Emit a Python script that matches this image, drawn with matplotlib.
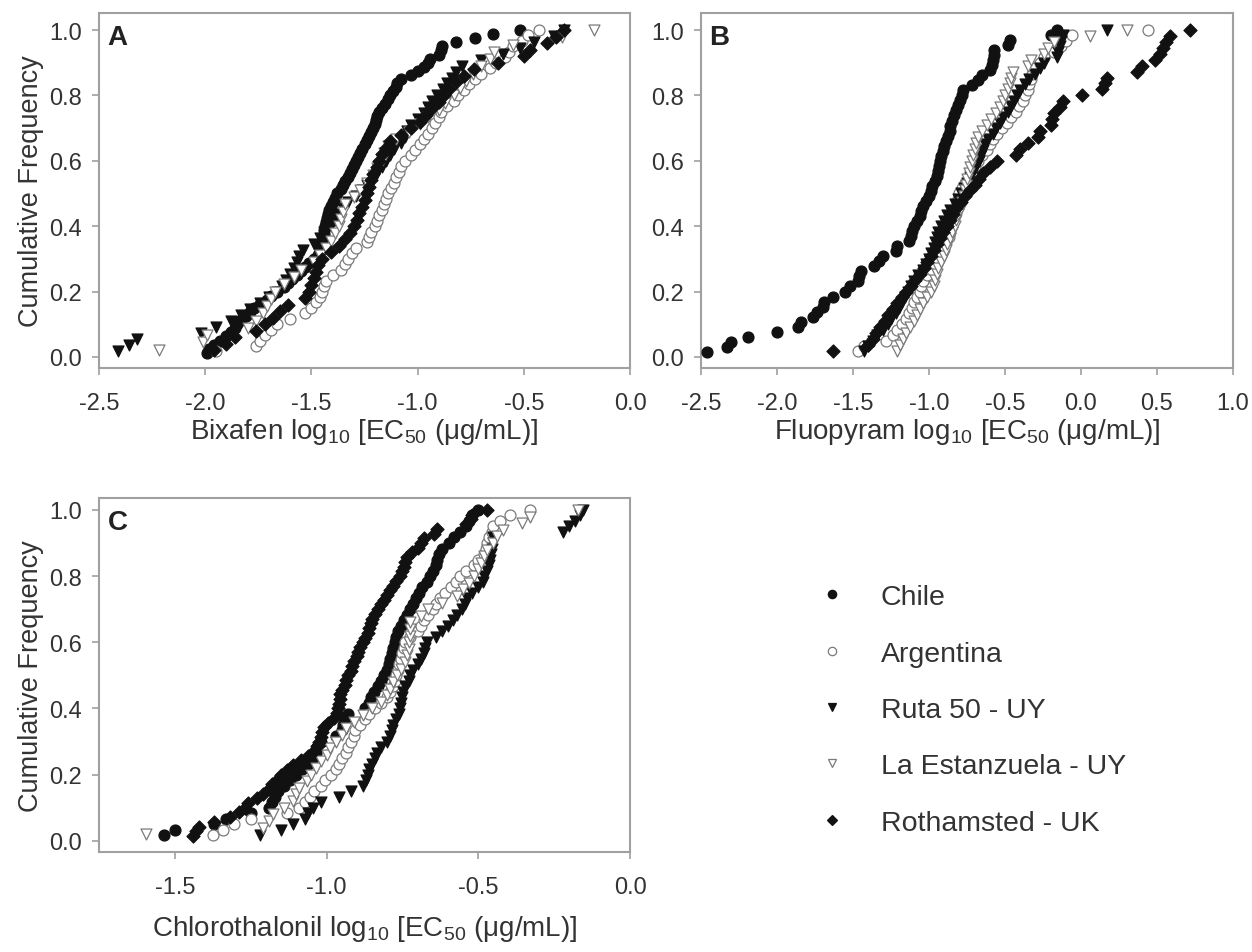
import numpy as np
import matplotlib
matplotlib.use("Agg")
import matplotlib.pyplot as plt
from matplotlib.lines import Line2D

plt.rcParams['font.family'] = ['Liberation Sans', 'DejaVu Sans']
plt.rcParams['mathtext.fontset'] = 'custom'
plt.rcParams['mathtext.rm'] = 'Liberation Sans'
plt.rcParams['mathtext.it'] = 'Liberation Sans:italic'

series_names = ["Chile", "Argentina", "Ruta 50 - UY", "La Estanzuela - UY", "Rothamsted - UK"]

# sorted log10 EC50 values
# --- A: Bixafen
bix_chile = [-1.99, -1.98, -1.96, -1.93, -1.90, -1.88, -1.86, -1.85, -1.83, -1.81,
             -1.79, -1.77, -1.74, -1.71, -1.69, -1.66, -1.63, -1.61, -1.59, -1.57,
             -1.55, -1.53, -1.51, -1.49, -1.47, -1.46, -1.455, -1.45, -1.445, -1.44,
             -1.44, -1.435, -1.43, -1.425, -1.42, -1.415, -1.41, -1.40, -1.39, -1.38,
             -1.36, -1.35, -1.34, -1.33, -1.32, -1.31, -1.30, -1.29, -1.28, -1.27,
             -1.26, -1.25, -1.24, -1.23, -1.22, -1.21, -1.20, -1.195, -1.19, -1.18,
             -1.17, -1.155, -1.14, -1.13, -1.115, -1.10, -1.095, -1.08, -1.03, -1.00,
             -0.97, -0.95, -0.94, -0.90, -0.89, -0.885, -0.82, -0.73, -0.645, -0.52]
bix_arg = [-1.95, -1.76, -1.74, -1.72, -1.69, -1.66, -1.60, -1.53, -1.50, -1.48,
           -1.46, -1.45, -1.44, -1.43, -1.40, -1.36, -1.34, -1.33, -1.31, -1.29,
           -1.24, -1.23, -1.22, -1.20, -1.19, -1.18, -1.17, -1.16, -1.15, -1.14,
           -1.125, -1.11, -1.10, -1.09, -1.08, -1.06, -1.03, -1.01, -0.99, -0.97,
           -0.95, -0.93, -0.92, -0.90, -0.89, -0.86, -0.83, -0.81, -0.78, -0.76,
           -0.73, -0.70, -0.66, -0.63, -0.59, -0.57, -0.55, -0.51, -0.48, -0.43]
bix_ruta = [-2.41, -2.36, -2.32, -2.02, -1.95, -1.88, -1.83, -1.79, -1.74, -1.70,
            -1.66, -1.64, -1.62, -1.60, -1.58, -1.57, -1.56, -1.54, -1.49, -1.46,
            -1.44, -1.41, -1.39, -1.38, -1.35, -1.33, -1.29, -1.26, -1.24, -1.21,
            -1.19, -1.17, -1.15, -1.13, -1.11, -1.08, -1.06, -1.05, -1.03, -1.00,
            -0.97, -0.95, -0.93, -0.91, -0.88, -0.86, -0.84, -0.82, -0.79, -0.70,
            -0.60, -0.52, -0.45, -0.36, -0.31]
bix_lae = [-2.22, -2.01, -1.99, -1.80, -1.76, -1.73, -1.71, -1.69, -1.67, -1.63,
           -1.58, -1.55, -1.49, -1.46, -1.43, -1.41, -1.39, -1.37, -1.36, -1.35,
           -1.34, -1.30, -1.27, -1.24, -1.21, -1.19, -1.17, -1.16, -1.14, -1.10,
           -1.04, -0.99, -0.95, -0.90, -0.87, -0.83, -0.80, -0.77, -0.74, -0.70,
           -0.66, -0.64, -0.55, -0.32, -0.17]
bix_roth = [-1.96, -1.90, -1.86, -1.76, -1.72, -1.68, -1.65, -1.61, -1.53, -1.51,
            -1.50, -1.49, -1.48, -1.47, -1.45, -1.41, -1.37, -1.34, -1.32, -1.30,
            -1.285, -1.275, -1.26, -1.25, -1.24, -1.23, -1.22, -1.21, -1.19, -1.18,
            -1.17, -1.15, -1.13, -1.08, -1.03, -0.99, -0.96, -0.93, -0.90, -0.875,
            -0.85, -0.82, -0.78, -0.735, -0.62, -0.50, -0.47, -0.39, -0.35, -0.31]

# --- B: Fluopyram
flu_chile = [-2.46, -2.33, -2.30, -2.19, -2.00, -1.86, -1.84, -1.76, -1.74, -1.70,
             -1.69, -1.63, -1.55, -1.52, -1.47, -1.46, -1.45, -1.36, -1.33, -1.30,
             -1.22, -1.21, -1.13, -1.12, -1.11, -1.10, -1.08, -1.06, -1.05, -1.04,
             -1.02, -1.00, -0.99, -0.98, -0.96, -0.95, -0.94, -0.935, -0.93, -0.92,
             -0.91, -0.90, -0.89, -0.875, -0.865, -0.86, -0.85, -0.835, -0.82, -0.81,
             -0.795, -0.785, -0.775, -0.72, -0.68, -0.65, -0.60, -0.585, -0.58, -0.575,
             -0.57, -0.48, -0.47, -0.20, -0.16]
flu_arg = [-1.47, -1.43, -1.28, -1.24, -1.21, -1.18, -1.15, -1.13, -1.11, -1.10,
           -1.08, -1.06, -1.05, -1.04, -1.01, -0.98, -0.96, -0.94, -0.92, -0.90,
           -0.89, -0.87, -0.86, -0.85, -0.84, -0.83, -0.82, -0.815, -0.81, -0.80,
           -0.78, -0.76, -0.74, -0.72, -0.70, -0.68, -0.65, -0.62, -0.60, -0.58,
           -0.55, -0.52, -0.49, -0.46, -0.43, -0.41, -0.38, -0.37, -0.35, -0.34,
           -0.33, -0.32, -0.31, -0.27, -0.24, -0.18, -0.13, -0.10, -0.06, 0.44]
flu_ruta = [-1.43, -1.40, -1.37, -1.34, -1.30, -1.27, -1.25, -1.22, -1.20, -1.18,
            -1.16, -1.14, -1.12, -1.10, -1.07, -1.04, -1.02, -1.00, -0.99, -0.97,
            -0.96, -0.95, -0.94, -0.92, -0.90, -0.88, -0.86, -0.83, -0.81, -0.79,
            -0.77, -0.75, -0.73, -0.71, -0.69, -0.67, -0.66, -0.645, -0.63, -0.61,
            -0.58, -0.56, -0.53, -0.51, -0.48, -0.46, -0.44, -0.42, -0.40, -0.37,
            -0.34, -0.30, -0.27, -0.24, -0.16, -0.15, -0.14, -0.13, -0.12, 0.17]
flu_lae = [-1.21, -1.19, -1.17, -1.15, -1.125, -1.10, -1.08, -1.06, -1.04, -1.01,
           -0.99, -0.97, -0.96, -0.95, -0.94, -0.92, -0.90, -0.89, -0.88, -0.86,
           -0.85, -0.83, -0.82, -0.81, -0.79, -0.78, -0.77, -0.76, -0.755, -0.75,
           -0.74, -0.73, -0.72, -0.71, -0.70, -0.69, -0.68, -0.65, -0.62, -0.59,
           -0.56, -0.53, -0.51, -0.50, -0.48, -0.47, -0.46, -0.45, -0.35, -0.33,
           -0.24, -0.22, -0.18, 0.06, 0.30]
flu_roth = [-1.63, -1.40, -1.37, -1.35, -1.32, -1.29, -1.27, -1.24, -1.21, -1.18,
            -1.15, -1.12, -1.09, -1.06, -1.03, -1.01, -0.99, -0.97, -0.95, -0.93,
            -0.91, -0.88, -0.86, -0.84, -0.82, -0.79, -0.76, -0.73, -0.70, -0.67,
            -0.645, -0.60, -0.555, -0.43, -0.40, -0.35, -0.28, -0.27, -0.20, -0.19,
            -0.18, -0.14, -0.12, 0.01, 0.14, 0.16, 0.17, 0.37, 0.40, 0.49,
            0.52, 0.54, 0.56, 0.585, 0.72]

# --- C: Chlorothalonil
chl_chile = [-1.535, -1.50, -1.37, -1.33, -1.25, -1.19, -1.18, -1.17, -1.16, -1.14,
             -1.12, -1.10, -1.08, -1.06, -1.045, -1.035, -1.03, -1.02, -0.97, -0.95,
             -0.945, -0.94, -0.93, -0.875, -0.86, -0.855, -0.845, -0.83, -0.82, -0.81,
             -0.80, -0.795, -0.79, -0.785, -0.78, -0.775, -0.77, -0.765, -0.755, -0.745,
             -0.735, -0.725, -0.715, -0.705, -0.695, -0.685, -0.67, -0.66, -0.65, -0.64,
             -0.635, -0.63, -0.62, -0.595, -0.58, -0.56, -0.54, -0.53, -0.52, -0.50]
chl_arg = [-1.375, -1.34, -1.305, -1.25, -1.13, -1.09, -1.07, -1.055, -1.04, -1.02,
           -1.005, -0.985, -0.97, -0.96, -0.948, -0.935, -0.928, -0.92, -0.91, -0.905,
           -0.89, -0.875, -0.86, -0.84, -0.82, -0.80, -0.79, -0.78, -0.775, -0.77,
           -0.765, -0.76, -0.755, -0.75, -0.745, -0.74, -0.725, -0.70, -0.69, -0.68,
           -0.665, -0.65, -0.64, -0.625, -0.61, -0.59, -0.575, -0.56, -0.54, -0.515,
           -0.50, -0.48, -0.475, -0.47, -0.465, -0.455, -0.45, -0.43, -0.395, -0.33]
chl_ruta = [-1.22, -1.15, -1.11, -1.07, -1.06, -1.045, -1.02, -0.96, -0.92, -0.88,
            -0.87, -0.865, -0.86, -0.85, -0.84, -0.833, -0.82, -0.80, -0.79, -0.785,
            -0.78, -0.77, -0.76, -0.757, -0.754, -0.75, -0.747, -0.74, -0.73, -0.724,
            -0.715, -0.70, -0.69, -0.68, -0.675, -0.668, -0.64, -0.62, -0.60, -0.585,
            -0.57, -0.555, -0.545, -0.536, -0.52, -0.50, -0.485, -0.48, -0.47, -0.465,
            -0.46, -0.458, -0.455, -0.452, -0.45, -0.22, -0.20, -0.18, -0.165, -0.155]
chl_lae = [-1.595, -1.21, -1.19, -1.175, -1.14, -1.11, -1.10, -1.09, -1.065, -1.05,
           -1.035, -1.02, -1.00, -0.99, -0.97, -0.95, -0.935, -0.91, -0.88, -0.85,
           -0.82, -0.80, -0.79, -0.78, -0.767, -0.755, -0.74, -0.735, -0.73, -0.728,
           -0.726, -0.725, -0.724, -0.69, -0.665, -0.62, -0.57, -0.55, -0.53, -0.515,
           -0.50, -0.49, -0.48, -0.47, -0.45, -0.44, -0.42, -0.355, -0.33, -0.17]
chl_roth = [-1.44, -1.43, -1.42, -1.37, -1.32, -1.29, -1.27, -1.26, -1.23, -1.21,
            -1.19, -1.18, -1.16, -1.15, -1.13, -1.11, -1.085, -1.06, -1.04, -1.03,
            -1.025, -1.02, -1.015, -1.01, -0.995, -0.975, -0.965, -0.962, -0.96, -0.957,
            -0.955, -0.95, -0.94, -0.935, -0.93, -0.92, -0.915, -0.91, -0.90, -0.895,
            -0.89, -0.88, -0.875, -0.865, -0.86, -0.855, -0.85, -0.84, -0.83, -0.82,
            -0.81, -0.80, -0.79, -0.78, -0.77, -0.757, -0.75, -0.745, -0.74, -0.735,
            -0.72, -0.70, -0.69, -0.68, -0.645, -0.635, -0.54, -0.525, -0.52, -0.47]

panels = [
    ("A", [bix_chile, bix_arg, bix_ruta, bix_lae, bix_roth], (-2.5, 0.0),
     [-2.5, -2.0, -1.5, -1.0, -0.5, 0.0], "Bixafen"),
    ("B", [flu_chile, flu_arg, flu_ruta, flu_lae, flu_roth], (-2.5, 1.0),
     [-2.5, -2.0, -1.5, -1.0, -0.5, 0.0, 0.5, 1.0], "Fluopyram"),
    ("C", [chl_chile, chl_arg, chl_ruta, chl_lae, chl_roth], (-1.75, 0.0),
     [-1.5, -1.0, -0.5, 0.0], "Chlorothalonil"),
]

# marker style per series: (marker, face, edge)
styles = [("o", "#111111", "#111111"),
          ("o", "white", "#7a7a7a"),
          ("v", "#111111", "#111111"),
          ("v", "white", "#7a7a7a"),
          ("D", "#111111", "#111111")]
sizes = [62, 62, 62, 62, 44]

text_col = "#333333"
spine_col = "#a0a0a0"

fig = plt.figure(figsize=(12.52, 9.53), dpi=100)
axes_pos = [[0.0791, 0.6128, 0.4241, 0.3725],
            [0.5599, 0.6128, 0.4249, 0.3725],
            [0.0791, 0.1049, 0.4241, 0.3715]]

for pos, (letter, data, xlim, xticks, drug) in zip(axes_pos, panels):
    ax = fig.add_axes(pos)
    for vals, (m, fc, ec), s in zip(data, styles, sizes):
        x = np.array(vals)
        y = np.arange(1, len(x) + 1) / len(x)
        ax.scatter(x, y, marker=m, s=s, facecolors=fc, edgecolors=ec,
                   linewidths=0.9, zorder=3)
    ax.set_xlim(*xlim)
    ax.set_ylim(-0.034, 1.052 if letter != "C" else 1.036)
    ax.set_xticks(xticks)
    ax.set_xticklabels([f"{t:.1f}" for t in xticks])
    ax.set_yticks([0, 0.2, 0.4, 0.6, 0.8, 1.0])
    ax.set_yticklabels(["0.0", "0.2", "0.4", "0.6", "0.8", "1.0"])
    ax.tick_params(direction="out", length=5, width=1.2, color=spine_col,
                   labelsize=17, labelcolor=text_col, pad=7)
    ax.tick_params(axis="x", pad=12)
    for sp in ax.spines.values():
        sp.set_color(spine_col)
        sp.set_linewidth(1.5)
    ax.set_xlabel(drug + r" log$_{10}$ [EC$_{50}$ (μg/mL)]", fontsize=20,
                  color=text_col, labelpad=(2 if letter != "C" else 11))
    if letter != "B":
        ax.set_ylabel("Cumulative Frequency", fontsize=19.5, color=text_col, labelpad=4)
    ax.text(0.016, 0.97, letter, transform=ax.transAxes, fontsize=20,
            fontweight="bold", color="#222222", va="top", ha="left")

handles = []
for (m, fc, ec), s in zip(styles, sizes):
    handles.append(Line2D([], [], linestyle="none", marker=m, markersize=6 if m != "D" else 5,
                          markerfacecolor=fc, markeredgecolor=ec, markeredgewidth=0.9))
fig.legend(handles, series_names, loc="upper left", bbox_to_anchor=(0.633, 0.413),
           frameon=False, fontsize=20.5, labelspacing=1.07, handletextpad=1.2,
           handlelength=1.0, labelcolor=text_col)

fig.savefig("out.png", dpi=100)
